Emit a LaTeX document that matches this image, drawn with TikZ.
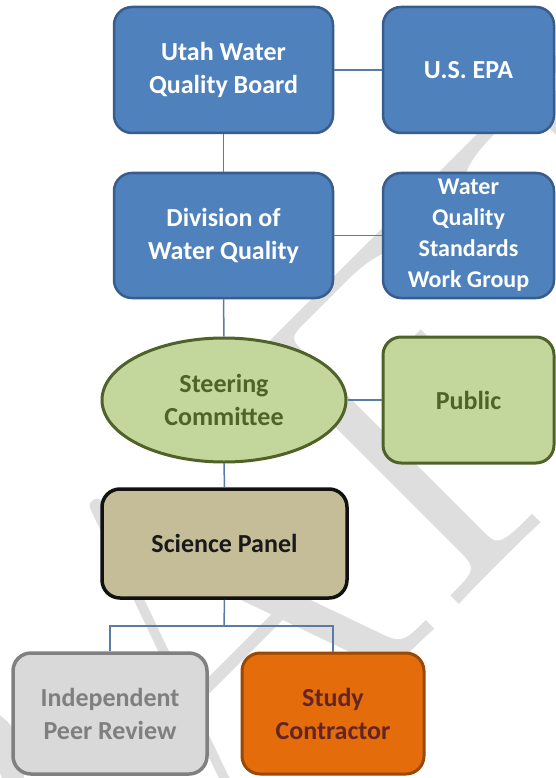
\documentclass[tikz,border=0pt]{standalone}
\usepackage{fontspec}
\setmainfont{Carlito}
\newfontfamily\wmfont{Latin Modern Roman}
\usetikzlibrary{shapes.geometric}

\definecolor{bluefill}{HTML}{4F81BD}
\definecolor{blueline}{HTML}{385D8A}
\definecolor{greenfill}{HTML}{C3D69B}
\definecolor{greenline}{HTML}{4F6228}
\definecolor{tanfill}{HTML}{C4BD97}
\definecolor{tanline}{HTML}{111111}
\definecolor{grayfill}{HTML}{D9D9D9}
\definecolor{grayline}{HTML}{808080}
\definecolor{graytext}{HTML}{7F7F7F}
\definecolor{orangefill}{HTML}{E46C0A}
\definecolor{orangeline}{HTML}{984807}
\definecolor{orangetext}{HTML}{632523}
\definecolor{conn}{HTML}{5A7BA3}
\definecolor{wmcol}{HTML}{DEDEDE}

\begin{document}
\begin{tikzpicture}[x=1pt,y=-1pt,
  box/.style={rectangle, rounded corners=18pt, line width=2.5pt, inner sep=0pt, align=center,
              font=\bfseries\fontsize{26}{33}\selectfont},
  bluebox/.style={box, fill=bluefill, draw=blueline, text=white},
  greenbox/.style={box, fill=greenfill, draw=greenline, text=greenline, line width=3pt},
  greenoval/.style={ellipse, inner sep=0pt, align=center, fill=greenfill, draw=greenline, text=greenline,
              line width=3pt, font=\bfseries\fontsize{26}{33}\selectfont},
  tanbox/.style={box, fill=tanfill, draw=tanline, text=black!90, line width=3.5pt},
  graybox/.style={box, fill=grayfill, draw=grayline, text=graytext, line width=3.5pt},
  orangebox/.style={box, fill=orangefill, draw=orangeline, text=orangetext, line width=3pt},
  link/.style={draw=conn, line width=1.5pt},
  wmtext/.style={inner sep=0pt, text=wmcol, font=\wmfont\fontsize{470}{470}\selectfont}]
\useasboundingbox (0,0) rectangle (556,778);
\fill[white] (0,0) rectangle (556,778);

% watermark
\begin{scope}
\clip (0,0) rectangle (556,778);
\node[wmtext, rotate=45, anchor=base west] (wmark) at (-249,1313) {DRAFT};
\end{scope}

% nodes
\node[bluebox, minimum width=219pt, minimum height=126pt] (utah) at (223.5,70) {Utah Water\\Quality Board};
\node[bluebox, minimum width=171pt, minimum height=126pt] (epa) at (468.5,70) {U.S. EPA};
\node[bluebox, minimum width=219pt, minimum height=125pt] (dwq) at (223.5,235.5) {Division of\\Water Quality};
\node[bluebox, minimum width=171pt, minimum height=125pt, font=\bfseries\fontsize{24}{31}\selectfont] (wqs) at (468.5,235.5) {Water\\Quality\\Standards\\Work Group};
\node[greenoval, minimum width=244pt, minimum height=124pt] (sc) at (224,400) {Steering\\Committee};
\node[greenbox, minimum width=171pt, minimum height=126pt] (pub) at (468.5,400) {Public};
\node[tanbox, minimum width=245pt, minimum height=109pt] (sp) at (224.5,543.5) {Science Panel};
\node[graybox, minimum width=194pt, minimum height=121pt] (ipr) at (110,713.5) {Independent\\Peer Review};
\node[orangebox, minimum width=182pt, minimum height=121pt] (stc) at (333,713.5) {Study\\Contractor};
\coordinate (fork) at (224,626);

% connectors
\draw[link] (utah.east) -- (epa.west);
\draw[link] (utah.south) -- (dwq.north);
\draw[link] (dwq.east) -- (wqs.west);
\draw[link] (dwq.south) -- (sc.north);
\draw[link] (sc.east) -- (pub.west);
\draw[link] (sc.south) -- (sp.north);
\draw[link] (sp.south) -- (fork);
\draw[link] (fork) -| (ipr.north);
\draw[link] (fork) -| (stc.north);
\end{tikzpicture}
\end{document}
